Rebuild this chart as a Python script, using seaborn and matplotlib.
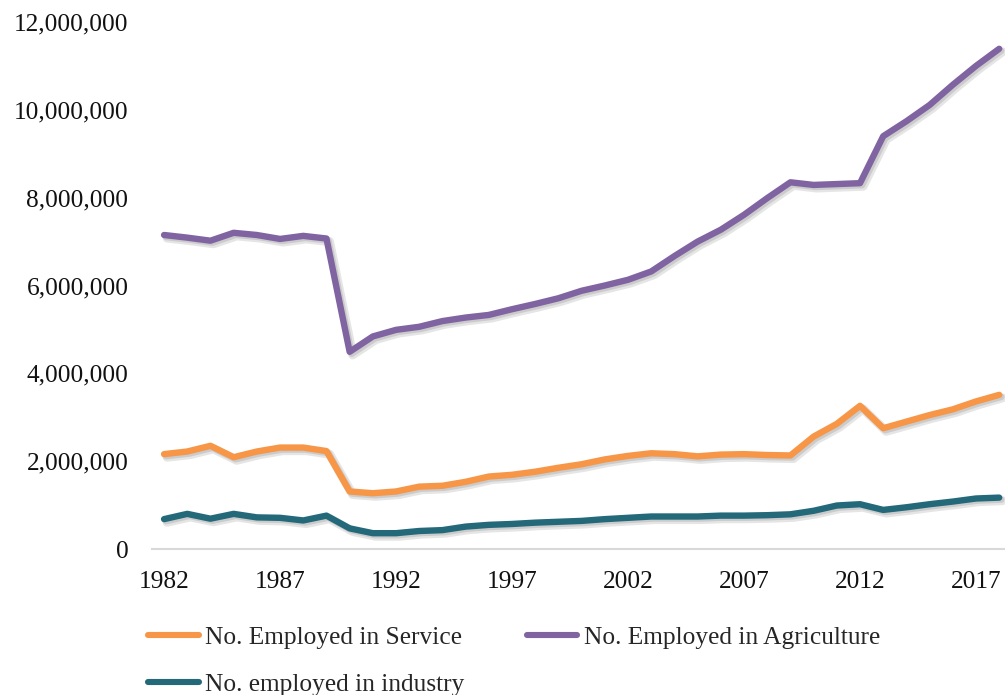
import matplotlib
matplotlib.use("Agg")
import matplotlib.pyplot as plt
import matplotlib.patheffects as pe
from matplotlib.lines import Line2D
from matplotlib.ticker import FuncFormatter
import numpy as np
import pandas as pd
import seaborn as sns

# Employment by sector, 1982-2018
years = list(range(1982, 2019))

service = [2.16, 2.22, 2.35, 2.09, 2.22, 2.31, 2.31, 2.23, 1.31, 1.27,
           1.31, 1.42, 1.44, 1.53, 1.65, 1.69, 1.76, 1.85, 1.93, 2.04,
           2.12, 2.18, 2.16, 2.11, 2.15, 2.16, 2.14, 2.13, 2.56, 2.85,
           3.26, 2.75, 2.90, 3.05, 3.18, 3.36, 3.51]

agriculture = [7.15, 7.09, 7.02, 7.20, 7.15, 7.06, 7.13, 7.07, 4.49, 4.84,
               4.99, 5.06, 5.19, 5.27, 5.33, 5.46, 5.58, 5.71, 5.88, 6.00,
               6.13, 6.32, 6.67, 7.00, 7.27, 7.61, 7.99, 8.35, 8.29, 8.31,
               8.33, 9.40, 9.74, 10.11, 10.57, 11.00, 11.39]

industry = [0.68, 0.80, 0.69, 0.80, 0.72, 0.71, 0.65, 0.76, 0.47, 0.36,
            0.36, 0.41, 0.43, 0.51, 0.55, 0.57, 0.60, 0.62, 0.64, 0.68,
            0.71, 0.74, 0.74, 0.74, 0.76, 0.76, 0.77, 0.79, 0.87, 0.99,
            1.02, 0.89, 0.95, 1.02, 1.08, 1.15, 1.17]

series_names = ["No. Employed in Service",
                "No. Employed in Agriculture",
                "No. employed in industry"]
series_colors = ["#F79646", "#8064A2", "#23697A"]
series_values = [service, agriculture, industry]

x_ticks = [1982, 1987, 1992, 1997, 2002, 2007, 2012, 2017]

frames = []
for name, vals in zip(series_names, series_values):
    frames.append(pd.DataFrame({"year": years,
                                "employed": np.array(vals) * 1e6,
                                "sector": name}))
df = pd.concat(frames, ignore_index=True)

sns.set_theme(style="white")
plt.rcParams["font.family"] = ["Liberation Serif", "DejaVu Serif"]

FS = 18.3
W, H = 1005, 695
fig = plt.figure(figsize=(W / 100, H / 100), dpi=100)
ax = fig.add_axes([152 / W, (H - 549) / H, (W - 152) / W, 527 / H])

sns.lineplot(data=df, x="year", y="employed", hue="sector",
             hue_order=series_names, palette=series_colors,
             linewidth=4.6, legend=False, ax=ax)

shadow = [pe.SimpleLineShadow(offset=(2.2, -2.2), shadow_color="#8a8a8a",
                              alpha=0.22, linewidth=6.5),
          pe.SimpleLineShadow(offset=(1.5, -1.5), shadow_color="#7f7f7f",
                              alpha=0.25),
          pe.Normal()]
for ln in ax.lines:
    ln.set_solid_capstyle("round")
    ln.set_solid_joinstyle("round")
    ln.set_path_effects(shadow)

ax.set_xlim(1981.48, 2018.25)
ax.set_ylim(0, 12e6)
ax.set_yticks(np.arange(0, 12e6 + 1, 2e6))
ax.set_xticks(x_ticks)
ax.yaxis.set_major_formatter(FuncFormatter(lambda v, p: f"{v:,.0f}"))
ax.set_xlabel("")
ax.set_ylabel("")
ax.tick_params(axis="both", length=0, labelsize=FS, colors="#111111")
ax.tick_params(axis="y", pad=17)
ax.tick_params(axis="x", pad=16)

for side in ["top", "right", "left"]:
    ax.spines[side].set_visible(False)
ax.spines["bottom"].set_color("#D9D9D9")
ax.spines["bottom"].set_linewidth(1.5)
ax.grid(False)

# legend: row 1 service + agriculture, row 2 industry
handles = [Line2D([], [], color=c, linewidth=4.4, solid_capstyle="round")
           for c in series_colors]
order = [0, 2, 1]
fig.legend([handles[i] for i in order], [series_names[i] for i in order],
           ncol=2, loc="upper left", bbox_to_anchor=(148 / W, 1 - 626 / H),
           frameon=False, fontsize=FS, handlelength=2.0,
           handletextpad=0.24, columnspacing=2.45, labelspacing=0.95,
           borderaxespad=0, borderpad=0)

fig.savefig("out.png", dpi=100, facecolor="white")
